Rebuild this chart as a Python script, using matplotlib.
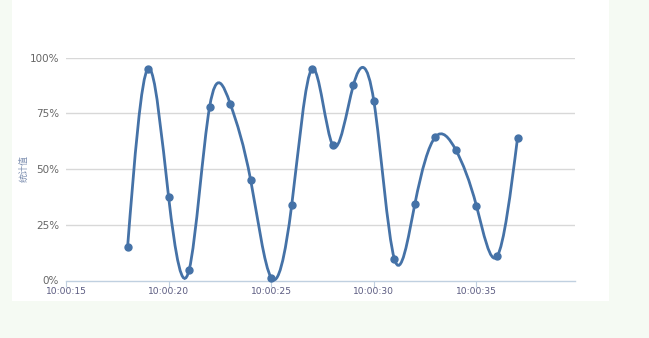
import matplotlib
matplotlib.use("Agg")
import matplotlib.pyplot as plt
from matplotlib.path import Path
from matplotlib.patches import PathPatch, Rectangle
import numpy as np

# Data
seconds = [18, 19, 20, 21, 22, 23, 24, 25, 26, 27, 28, 29, 30, 31, 32, 33, 34, 35, 36, 37]
values = [15.0, 95.0, 37.4, 4.8, 78.0, 79.3, 44.9, 1.2, 34.0, 95.0,
          60.6, 87.5, 80.4, 9.7, 34.4, 64.4, 58.4, 33.4, 10.8, 63.9]
tick_seconds = [15, 20, 25, 30, 35]
tick_labels = ["10:00:15", "10:00:20", "10:00:25", "10:00:30", "10:00:35"]
y_ticks = [0, 25, 50, 75, 100]
y_labels = ["0%", "25%", "50%", "75%", "100%"]
y_title = "统计值"

LINE = "#4572A7"

W, H = 649, 338
fig = plt.figure(figsize=(W / 100, H / 100), dpi=100, facecolor="#f5faf3")
bg = Rectangle((12 / W, 1 - 301 / H), (609 - 12) / W, 301 / H,
               transform=fig.transFigure, facecolor="white",
               edgecolor="none", zorder=-10)
fig.patches.append(bg)

ax = fig.add_axes([66 / W, 1 - 280.5 / H, (575 - 66) / W, (280.5 - 57.5) / H])
ax.set_zorder(1)
ax.set_facecolor("none")
ax.set_xlim(15, 39.8)
ax.set_ylim(0, 100)

for s in ["top", "right", "left"]:
    ax.spines[s].set_visible(False)
ax.spines["bottom"].set_color("#c0d0e0")
ax.spines["bottom"].set_linewidth(1)

for yv in y_ticks[1:]:
    ax.axhline(yv, color="#d8d8d8", lw=1, zorder=1)

ax.set_yticks(y_ticks)
ax.set_yticklabels(y_labels, color="#666666", fontsize=7.5, family="DejaVu Sans")
ax.tick_params(axis="y", length=0, pad=5)
ax.set_xticks(tick_seconds)
ax.set_xticklabels(tick_labels, color="#5a5a80", fontsize=6.6, family="DejaVu Sans")
ax.tick_params(axis="x", length=4, color="#c0d0e0", pad=1)

ax.set_ylabel(y_title, family=["Noto Sans CJK SC", "DejaVu Sans"], color="#7d8fb0",
              fontsize=6.5)
ax.yaxis.set_label_coords((29 - 66) / (575 - 66), 0.5)

# Natural cubic spline through the points -> tangents -> bezier path
xs = np.array(seconds, dtype=float)
ys = np.array(values, dtype=float)
n = len(xs)
h = np.diff(xs)
A = np.zeros((n, n))
b = np.zeros(n)
A[0, 0] = 1
A[-1, -1] = 1
for i in range(1, n - 1):
    A[i, i - 1] = h[i - 1]
    A[i, i] = 2 * (h[i - 1] + h[i])
    A[i, i + 1] = h[i]
    b[i] = 6 * ((ys[i + 1] - ys[i]) / h[i] - (ys[i] - ys[i - 1]) / h[i - 1])
M = np.linalg.solve(A, b)
# derivative at each knot
d = np.zeros(n)
for i in range(n - 1):
    d[i] = (ys[i + 1] - ys[i]) / h[i] - h[i] * (2 * M[i] + M[i + 1]) / 6
d[-1] = (ys[-1] - ys[-2]) / h[-1] + h[-1] * (M[-2] + 2 * M[-1]) / 6

verts = [(xs[0], ys[0])]
codes = [Path.MOVETO]
for i in range(n - 1):
    dx = h[i] / 3
    verts += [(xs[i] + dx, ys[i] + d[i] * dx),
              (xs[i + 1] - dx, ys[i + 1] - d[i + 1] * dx),
              (xs[i + 1], ys[i + 1])]
    codes += [Path.CURVE4] * 3
patch = PathPatch(Path(verts, codes), facecolor="none", edgecolor=LINE, lw=2,
                  zorder=3, clip_on=False)
ax.add_patch(patch)
ax.plot(xs, ys, "o", color=LINE, markersize=5, zorder=4, clip_on=False)

fig.savefig("out.png", dpi=100, facecolor=fig.get_facecolor())
